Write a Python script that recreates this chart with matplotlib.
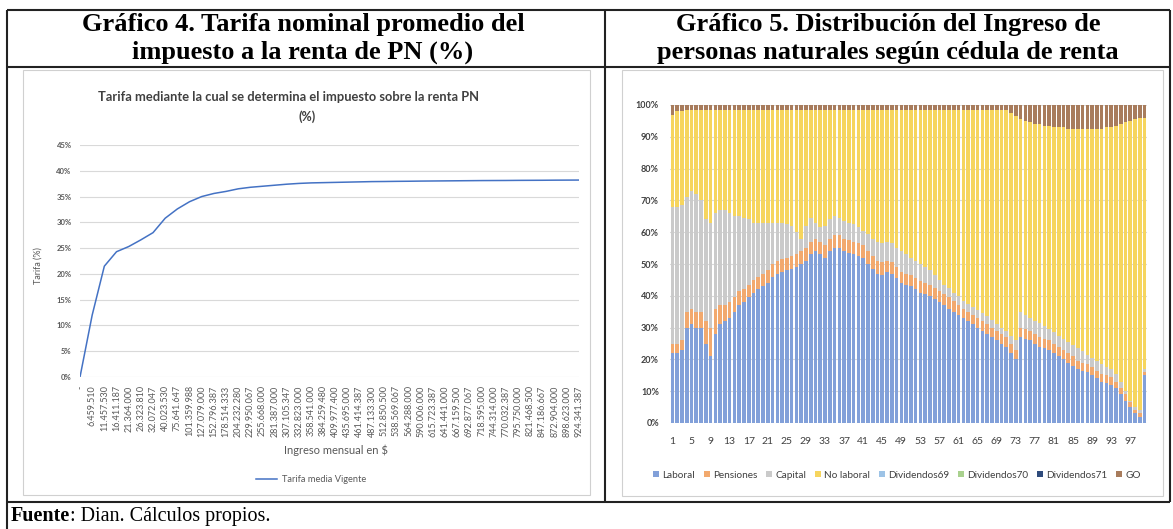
import matplotlib
matplotlib.use("Agg")
import matplotlib.pyplot as plt
import numpy as np
from matplotlib.patches import Rectangle

W, H = 1173, 529

# ---------------- Chart 4 data ----------------
ingreso_labels = ["-", "6.459.510", "11.457.530", "16.411.187", "21.364.000", "26.323.810",
                  "32.072.047", "40.023.530", "75.641.647", "101.359.988", "127.079.000",
                  "152.796.387", "178.514.333", "204.232.280", "229.950.067", "255.668.000",
                  "281.387.000", "307.105.347", "332.823.000", "358.541.000", "384.259.480",
                  "409.977.400", "435.695.000", "461.414.387", "487.133.300", "512.850.500",
                  "538.569.067", "564.288.000", "590.006.000", "615.723.387", "641.441.000",
                  "667.159.500", "692.877.067", "718.595.000", "744.314.000", "770.032.387",
                  "795.750.000", "821.468.500", "847.186.667", "872.904.000", "898.623.000",
                  "924.341.387"]
tarifa = [0.0, 12.0, 21.5, 24.3, 25.3, 26.6, 28.0, 30.8, 32.6, 34.0, 35.0,
          35.6, 36.0, 36.5, 36.8, 37.0, 37.2, 37.4, 37.55, 37.65, 37.7,
          37.75, 37.8, 37.85, 37.9, 37.92, 37.95, 37.97, 38.0, 38.02, 38.04,
          38.06, 38.08, 38.1, 38.11, 38.12, 38.14, 38.15, 38.16, 38.18, 38.19, 38.2]

# ---------------- Chart 5 data (shares by percentile 1..100) ----------------
percentil = list(range(1, 101))
laboral = [22, 22, 23, 30, 31, 30, 30, 25, 21, 28,
           31, 32, 33, 35, 37, 38, 39.5, 41, 42, 43,
           44, 46, 47, 47.5, 48, 48.5, 49, 50, 51, 53,
           54, 53, 52, 54, 55, 55, 54, 53.5, 53, 52.5,
           52, 50, 48.5, 47, 46.5, 47.5, 47, 45.5, 44, 43.5,
           43, 42, 41, 40.5, 40, 39, 38, 37, 36, 35,
           34, 33, 32, 31, 30, 29, 28, 27, 26, 25,
           24, 22, 20, 27, 26.5, 26, 25, 24, 23.5, 23,
           22, 21, 20, 19, 18, 17, 16.5, 16, 15, 14,
           13, 12.5, 12, 11, 9, 7, 5, 3, 2, 15]
pensiones = [3, 3, 3, 5, 5, 5, 5, 7, 9, 8,
             6, 5, 5, 4.5, 4.5, 4, 4, 4, 4, 4,
             4, 4, 4, 4, 4, 4, 4, 4, 4, 4,
             4, 4, 4, 4, 4, 4, 4, 4, 4, 4,
             4, 4, 4, 4, 4, 3.5, 3.5, 3.5, 3.5, 3.5,
             3.5, 3.5, 3.5, 3.5, 3.5, 3.5, 3.5, 3.5, 3.5, 3.5,
             3, 3, 3, 3, 3, 3, 3, 3, 3, 3,
             3, 3, 3, 3, 3, 3, 3, 3, 3, 3,
             3, 3, 3, 3, 3, 2.5, 2.5, 2.5, 2.5, 2.5,
             2.5, 2.5, 2.5, 2, 2, 2, 1.5, 1, 1, 1]
capital = [43, 43, 42.5, 36, 37, 37, 35, 32, 33, 30,
           30, 30, 28, 25.5, 23.5, 22.5, 20.5, 18, 17, 16,
           15, 13, 12, 11.5, 10.5, 9.5, 7, 4, 7, 7.5,
           5, 4.5, 6, 6, 6, 5.5, 5.5, 5.5, 5.5, 5,
           4.5, 5.5, 5.5, 6, 6, 6, 6, 6, 6.5, 6,
           5.5, 5.5, 5.5, 5, 4.5, 4, 3.5, 3, 3, 2.5,
           3, 2.5, 2.5, 2.5, 2.5, 2.5, 2.5, 2.5, 2, 2,
           2, 2.5, 3, 5, 4.5, 4, 4, 4.5, 4, 3.5,
           3.5, 3.5, 3.5, 3.5, 3.5, 4, 3.5, 3, 3, 3,
           3, 2.5, 2.5, 2.5, 2, 1, 0.5, 1, 1, 1]
no_laboral = [29, 30, 29.5, 27.5, 25.5, 26.5, 28.5, 34.5, 35.5, 32.5,
              31.5, 31.5, 32.5, 33.5, 33.5, 34, 34.5, 35.5, 35.5, 35.5,
              35.5, 35.5, 35.5, 35.5, 36, 36.5, 38.5, 40.5, 36.5, 34,
              35.5, 37, 36.5, 34.5, 33.5, 34, 35, 35.5, 36, 37,
              38, 39, 40.5, 41.5, 42, 41.5, 42, 43.5, 44.5, 45.5,
              46.5, 47.5, 48.5, 49.5, 50.5, 52, 53.5, 55, 56, 57.5,
              58.5, 60, 61, 62, 63, 64, 65, 66, 67.5, 68.5,
              69.5, 70, 70.5, 60.5, 61, 61.5, 62, 62.5, 63, 64,
              64.5, 65.5, 66.5, 67, 68, 69, 70, 71, 72, 73,
              74, 75.5, 76, 78, 81, 84.5, 88, 90.5, 92, 79]
dividendos69 = [0, 0, 0, 0, 0, 0, 0, 0, 0, 0,
                0, 0, 0, 0, 0, 0, 0, 0, 0, 0,
                0, 0, 0, 0, 0, 0, 0, 0, 0, 0,
                0, 0, 0, 0, 0, 0, 0, 0, 0, 0,
                0, 0, 0, 0, 0, 0, 0, 0, 0, 0,
                0, 0, 0, 0, 0, 0, 0, 0, 0, 0,
                0, 0, 0, 0, 0, 0, 0, 0, 0, 0,
                0, 0, 0, 0, 0, 0, 0, 0, 0, 0,
                0, 0, 0, 0, 0, 0, 0, 0, 0, 0,
                0, 0, 0, 0, 0, 0, 0, 0, 0, 0]
dividendos70 = [0, 0, 0, 0, 0, 0, 0, 0, 0, 0,
                0, 0, 0, 0, 0, 0, 0, 0, 0, 0,
                0, 0, 0, 0, 0, 0, 0, 0, 0, 0,
                0, 0, 0, 0, 0, 0, 0, 0, 0, 0,
                0, 0, 0, 0, 0, 0, 0, 0, 0, 0,
                0, 0, 0, 0, 0, 0, 0, 0, 0, 0,
                0, 0, 0, 0, 0, 0, 0, 0, 0, 0,
                0, 0, 0, 0, 0, 0, 0, 0, 0, 0,
                0, 0, 0, 0, 0, 0, 0, 0, 0, 0,
                0, 0, 0, 0, 0, 0, 0, 0, 0, 0]
dividendos71 = [0, 0, 0, 0, 0, 0, 0, 0, 0, 0,
                0, 0, 0, 0, 0, 0, 0, 0, 0, 0,
                0, 0, 0, 0, 0, 0, 0, 0, 0, 0,
                0, 0, 0, 0, 0, 0, 0, 0, 0, 0,
                0, 0, 0, 0, 0, 0, 0, 0, 0, 0,
                0, 0, 0, 0, 0, 0, 0, 0, 0, 0,
                0, 0, 0, 0, 0, 0, 0, 0, 0, 0,
                0, 0, 0, 0, 0, 0, 0, 0, 0, 0,
                0, 0, 0, 0, 0, 0, 0, 0, 0, 0,
                0, 0, 0, 0, 0, 0, 0, 0, 0, 0]
go = [3, 2, 2, 1.5, 1.5, 1.5, 1.5, 1.5, 1.5, 1.5,
      1.5, 1.5, 1.5, 1.5, 1.5, 1.5, 1.5, 1.5, 1.5, 1.5,
      1.5, 1.5, 1.5, 1.5, 1.5, 1.5, 1.5, 1.5, 1.5, 1.5,
      1.5, 1.5, 1.5, 1.5, 1.5, 1.5, 1.5, 1.5, 1.5, 1.5,
      1.5, 1.5, 1.5, 1.5, 1.5, 1.5, 1.5, 1.5, 1.5, 1.5,
      1.5, 1.5, 1.5, 1.5, 1.5, 1.5, 1.5, 1.5, 1.5, 1.5,
      1.5, 1.5, 1.5, 1.5, 1.5, 1.5, 1.5, 1.5, 1.5, 1.5,
      1.5, 2.5, 3.5, 4.5, 5, 5.5, 6, 6, 6.5, 6.5,
      7, 7, 7, 7.5, 7.5, 7.5, 7.5, 7.5, 7.5, 7.5,
      7.5, 7, 7, 6.5, 6, 5.5, 5, 4.5, 4, 4]

series_names = ["Laboral", "Pensiones", "Capital", "No laboral",
                "Dividendos69", "Dividendos70", "Dividendos71", "GO"]
series_vals = [laboral, pensiones, capital, no_laboral,
               dividendos69, dividendos70, dividendos71, go]
series_cols = ["#82a0d9", "#f2a96e", "#cacaca", "#f6d55e",
               "#9dc3e6", "#a9d18e", "#2f4b7c", "#a87c5c"]

# ---------------- Figure ----------------
fig = plt.figure(figsize=(W / 100, H / 100), dpi=100)


def rect(x0, y0, x1, y1):
    return [x0 / W, 1 - y1 / H, (x1 - x0) / W, (y1 - y0) / H]


bg = fig.add_axes([0, 0, 1, 1])
bg.set_xlim(0, W)
bg.set_ylim(H, 0)
bg.axis("off")

# table borders
tl = dict(color="#222222", lw=1.5, solid_capstyle="butt")
bg.plot([7, 1170], [10, 10], **tl)
bg.plot([7, 1170], [67, 67], **tl)
bg.plot([7, 1170], [502, 502], **tl)
bg.plot([7, 7], [10, 529], **tl)
bg.plot([605, 605], [10, 502], **tl)
bg.plot([1170, 1170], [10, 502], **tl)

serif = "Liberation Serif"
hfs = 19
bg.text(303, 25, "Gráfico 4. Tarifa nominal promedio del", ha="center", va="center",
        fontsize=hfs, fontweight="bold", family=serif)
bg.text(303, 52, "impuesto a la renta de PN (%)", ha="center", va="center",
        fontsize=hfs, fontweight="bold", family=serif)
bg.text(888, 25, "Gráfico 5. Distribución del Ingreso de", ha="center", va="center",
        fontsize=hfs, fontweight="bold", family=serif)
bg.text(888, 52, "personas naturales según cédula de renta", ha="center", va="center",
        fontsize=hfs, fontweight="bold", family=serif)

# chart frames
bg.add_patch(Rectangle((23, 70), 567, 425, fill=False, ec="#d0d0d0", lw=0.8))
bg.add_patch(Rectangle((622, 70), 541, 426, fill=False, ec="#d0d0d0", lw=0.8))

# footer
t1 = bg.text(11, 516, "Fuente", ha="left", va="center", fontsize=14.5,
             fontweight="bold", family=serif)
bg.annotate(": Dian. Cálculos propios.", xy=(1, 0.5), xycoords=t1, ha="left",
            va="center", fontsize=14.5, family=serif)

sans = "Lato"
grey_txt = "#595959"

# ---------------- Chart 4 ----------------
ax1 = fig.add_axes(rect(80, 145, 579, 377))
x4 = np.arange(len(ingreso_labels))
ax1.plot(x4, tarifa, color="#4472c4", lw=1.1, label="Tarifa media Vigente")
ax1.set_xlim(0, len(ingreso_labels) - 1)
ax1.set_ylim(0, 45)
ax1.set_yticks(np.arange(0, 46, 5))
ax1.set_yticklabels([f"{v}%" for v in range(0, 46, 5)], fontsize=5.5, color=grey_txt,
                    family=sans, fontweight="bold")
ax1.set_xticks(x4)
ax1.set_xticklabels(ingreso_labels, rotation=90, fontsize=6.5, color=grey_txt, family=sans)
ax1.tick_params(length=0, pad=6)
ax1.grid(axis="y", color="#d9d9d9", lw=0.8)
ax1.set_axisbelow(True)
for s in ax1.spines.values():
    s.set_visible(False)
ax1.legend(loc="center", bbox_to_anchor=(311 / W, 1 - 480 / H), bbox_transform=fig.transFigure,
           frameon=False, prop={"family": sans, "size": 6.7}, handlelength=2.3,
           handletextpad=0.5, labelcolor=grey_txt)

bg.text(289, 97, "Tarifa mediante la cual se determina el impuesto sobre la renta PN",
        ha="center", va="center", fontsize=9.3, color="#404040", family=sans,
        fontweight="bold")
bg.text(307, 117, "(%)", ha="center", va="center", fontsize=9, color="#404040",
        family=sans, fontweight="bold")
bg.text(38, 266, "Tarifa (%)", ha="center", va="center", rotation=90, fontsize=6.5,
        color=grey_txt, family=sans)
bg.text(336, 450, "Ingreso mensual en $", ha="center", va="center", fontsize=8,
        color=grey_txt, family=sans)

# ---------------- Chart 5 ----------------
ax2 = fig.add_axes(rect(670, 105, 1147, 423))
vals = np.array(series_vals, dtype=float)
shares = vals / vals.sum(axis=0) * 100
bottom = np.zeros(len(percentil))
for name, s, c in zip(series_names, shares, series_cols):
    ax2.bar(percentil, s, bottom=bottom, width=0.76, color=c, lw=0, label=name)
    bottom += s
ax2.set_xlim(0.5, 100.5)
ax2.set_ylim(0, 100)
ax2.set_yticks(np.arange(0, 101, 10))
ax2.set_yticklabels([f"{v}%" for v in range(0, 101, 10)], fontsize=6.5, color="#404040",
                    family=sans, fontweight="bold")
ax2.set_xticks(percentil[::4])
ax2.set_xticklabels([str(p) for p in percentil[::4]], fontsize=7.5, color="#404040", family=sans)
ax2.tick_params(axis="y", length=0, pad=8)
ax2.tick_params(axis="x", length=0, pad=10)
ax2.grid(axis="y", color="#d9d9d9", lw=0.8)
ax2.set_axisbelow(True)
for s in ax2.spines.values():
    s.set_visible(False)
ax2.legend(loc="center", bbox_to_anchor=(897 / W, 1 - 475 / H), bbox_transform=fig.transFigure,
           ncol=8, frameon=False, prop={"family": sans, "size": 7.2}, handlelength=0.6,
           handleheight=0.6, handletextpad=0.3, columnspacing=0.9, labelcolor="#404040")

fig.savefig("out.png", dpi=100)
